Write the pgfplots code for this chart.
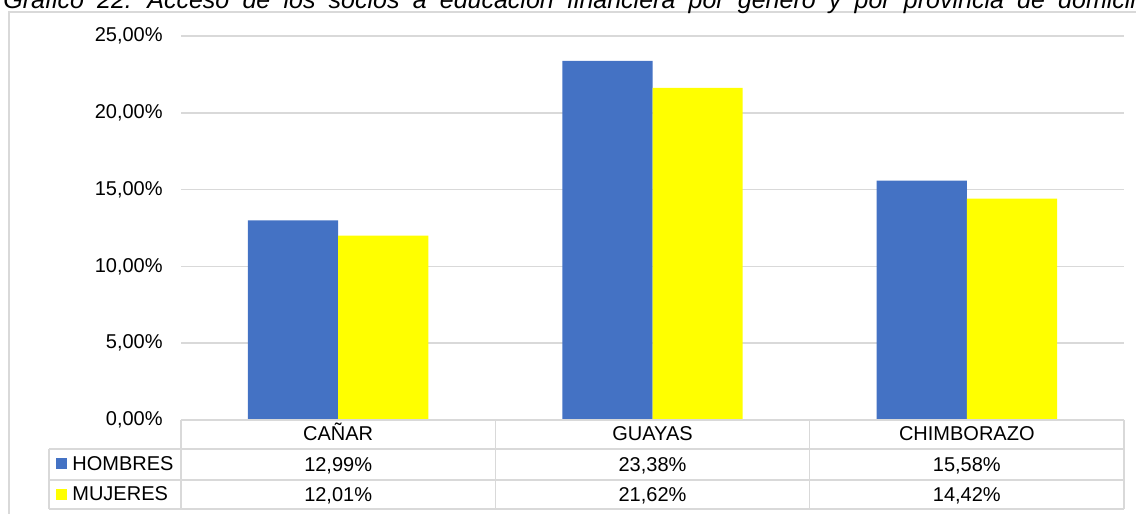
\documentclass[border=0pt]{standalone}
\usepackage{pgfplots}
\pgfplotsset{compat=1.18}
\usepackage{pgfplotstable}
\usepackage{fontspec}
\setmainfont{Liberation Sans}

\definecolor{hblue}{HTML}{4472C4}
\definecolor{myellow}{HTML}{FFFF00}
\definecolor{gridgray}{HTML}{D9D9D9}

\pgfplotstableread{
x name hombres mujeres
0 CAÑAR 12.99 12.01
1 GUAYAS 23.38 21.62
2 CHIMBORAZO 15.58 14.42
}\datatable

\begin{document}
\begin{tikzpicture}
\begin{axis}[
  at={(90.5pt,47pt)}, anchor=south west,
  scale only axis,
  width=471.5pt, height=192pt,
  xmin=-0.5, xmax=2.5,
  ymin=0, ymax=25,
  clip=false,
  font=\fontsize{10}{12}\selectfont,
  /pgf/number format/assume math mode=true,
  axis line style={draw=none},
  tick style={draw=none},
  ymajorgrids,
  grid style={gridgray, line width=0.75pt},
  ytick={0,5,10,15,20,25},
  yticklabel={\pgfmathprintnumber[fixed,fixed zerofill,precision=2,use comma]{\tick}\%},
  yticklabel style={anchor=east, inner sep=0pt, xshift=-9pt},
  xtick={0,1,2},
  xticklabels from table={\datatable}{name},
  xticklabel style={anchor=base, inner sep=0pt, yshift=-10.5pt},
]
\addplot[ybar, bar width=0.287, bar shift=-0.1435, fill=hblue, draw=none]
  table[x=x, y=hombres] {\datatable};
\addplot[ybar, bar width=0.287, bar shift=0.1435, fill=myellow, draw=none]
  table[x=x, y=mujeres] {\datatable};
% values of the data table under the axis
\addplot[draw=none, point meta=explicit,
  nodes near coords={\pgfmathprintnumber[fixed,fixed zerofill,precision=2,use comma]{\pgfplotspointmeta}\%},
  nodes near coords style={anchor=base, inner sep=0pt}]
  table[x=x, y expr=-3.353, meta=hombres] {\datatable};
\addplot[draw=none, point meta=explicit,
  nodes near coords={\pgfmathprintnumber[fixed,fixed zerofill,precision=2,use comma]{\pgfplotspointmeta}\%},
  nodes near coords style={anchor=base, inner sep=0pt}]
  table[x=x, y expr=-5.306, meta=mujeres] {\datatable};
\end{axis}

% frame, table grid and legend keys, in pixel units of the reference
\begin{scope}[x=0.5pt, y=-0.5pt, yshift=257pt, font=\fontsize{10}{12}\selectfont]
  \draw[gridgray, line width=0.75pt] (9,530) -- (9,12) -- (1150,12);
  \draw[gridgray, line width=0.75pt]
    (181,420) -- (1124,420)
    (49,449) -- (1124,449)
    (49,480) -- (1124,480)
    (49,509) -- (1124,509)
    (49,449) -- (49,509)
    (181,420) -- (181,509)
    (495.3,420) -- (495.3,509)
    (809.7,420) -- (809.7,509)
    (1124,420) -- (1124,509);
  \fill[hblue] (56,458) rectangle (67,469);
  \fill[myellow] (56,489) rectangle (67,500);
  \node[anchor=base west, inner sep=0pt] at (72,471) {HOMBRES};
  \node[anchor=base west, inner sep=0pt] at (72,501) {MUJERES};
  % the title is a justified line in the source, so its word spaces are wide
  \node[anchor=base west, inner sep=0pt, font=\fontsize{12.5}{15}\selectfont\itshape]
    at (3,9) {\spaceskip=6.6pt Gráfico 22. Acceso de los socios a educación financiera por género y por provincia de domicilio};
\end{scope}
\pgfresetboundingbox
\useasboundingbox (0,0) rectangle (568pt,257pt);
\end{tikzpicture}
\end{document}
